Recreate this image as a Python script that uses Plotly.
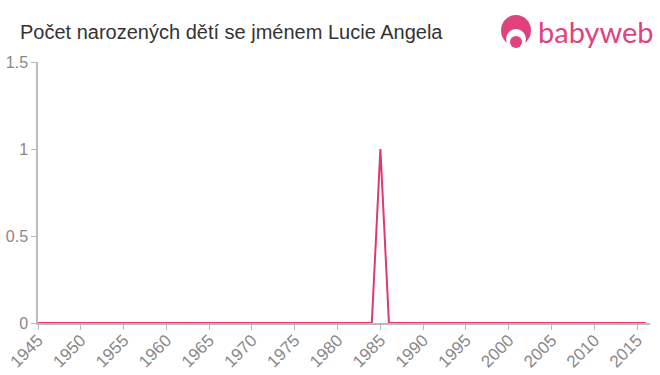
import plotly.graph_objects as go

years = list(range(1945, 2017))
counts = [0] * len(years)
counts[years.index(1985)] = 1

title_text = "Počet narozených dětí se jménem Lucie Angela"
x_ticks = list(range(1945, 2016, 5))
y_ticks = [0, 0.5, 1, 1.5]
y_tick_labels = ["0", "0.5", "1", "1.5"]

W, H = 660, 375
L, R, T, B = 38, 10, 62, 52
PW, PH = W - L - R, H - T - B

def px(x):
    return (x - L) / PW

def py(y):
    return (H - B - y) / PH

fig = go.Figure()
fig.add_trace(go.Scatter(x=years, y=counts, mode="lines", cliponaxis=False,
                         line=dict(color="#e0386c", width=2), hoverinfo="skip"))

pink = "#e0417f"
shapes = [
    dict(type="circle", xref="paper", yref="paper", x0=px(501), x1=px(531), y0=py(46), y1=py(15),
         fillcolor=pink, line_width=0, layer="above"),
    dict(type="circle", xref="paper", yref="paper", x0=px(506), x1=px(526), y0=py(49), y1=py(29),
         fillcolor="white", line_width=0, layer="above"),
    dict(type="circle", xref="paper", yref="paper", x0=px(510), x1=px(522), y0=py(48), y1=py(36),
         fillcolor=pink, line_width=0, layer="above"),
]

fig.update_layout(
    width=W, height=H,
    margin=dict(l=L, r=R, t=T, b=B, autoexpand=False),
    paper_bgcolor="white", plot_bgcolor="white",
    showlegend=False,
    font=dict(family="Liberation Sans, Arial, sans-serif", color="#888"),
    title=dict(text=title_text, x=20 / W, xanchor="left", y=1 - 32 / H, yanchor="middle",
               font=dict(size=20, color="#333")),
    xaxis=dict(range=[1945, 2016.5], tickvals=x_ticks, ticktext=[str(v) for v in x_ticks],
               tickangle=-45, ticks="outside", ticklen=5, tickcolor="#bbb", automargin=False,
               showline=True, linecolor="#bbb", linewidth=1.5, showgrid=False, zeroline=False,
               ticklabelstandoff=-6,
               tickfont=dict(size=17, color="#888")),
    yaxis=dict(range=[0, 1.5], tickvals=y_ticks, ticktext=y_tick_labels, automargin=False,
               ticks="outside", ticklen=5, tickcolor="#bbb",
               showline=True, linecolor="#bbb", linewidth=1.5, showgrid=False, zeroline=False,
               tickfont=dict(size=16, color="#888")),
    shapes=shapes,
    annotations=[dict(text="babyweb", xref="paper", yref="paper", x=px(536), y=py(31),
                      xanchor="left", yanchor="middle", showarrow=False,
                      font=dict(size=29, color=pink, family="Lato, Liberation Sans, sans-serif"))],
)

fig.write_html("out.html")
